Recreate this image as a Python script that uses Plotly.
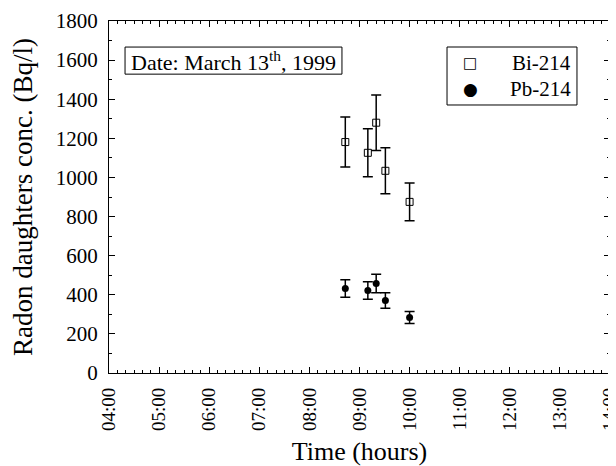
import plotly.graph_objects as go

times = ["1999-03-13 08:43", "1999-03-13 09:10", "1999-03-13 09:20", "1999-03-13 09:31", "1999-03-13 10:00"]
bi214 = [1181, 1126, 1280, 1034, 875]
bi214_err = [128, 123, 142, 118, 97]
pb214 = [432, 422, 458, 371, 284]
pb214_err = [45, 45, 47, 40, 31]
series_names = ["Bi-214", "Pb-214"]

font = "Liberation Serif, Times New Roman, serif"

fig = go.Figure()
fig.add_trace(go.Scatter(
    x=times, y=bi214, mode="markers", name=series_names[0],
    marker=dict(symbol="square-open", size=7, color="black", line=dict(width=1)),
    error_y=dict(type="data", array=bi214_err, color="black", thickness=1.5, width=5),
))
fig.add_trace(go.Scatter(
    x=times, y=pb214, mode="markers", name=series_names[1],
    marker=dict(symbol="circle", size=7, color="black"),
    error_y=dict(type="data", array=pb214_err, color="black", thickness=1.5, width=5),
))

fig.update_layout(
    width=608, height=458,
    margin=dict(l=101, r=6, t=13, b=93, autoexpand=False),
    paper_bgcolor="white", plot_bgcolor="white",
    font=dict(family=font, size=20, color="black"),
    showlegend=False,
    xaxis=dict(
        type="date", range=["1999-03-13 04:00", "1999-03-13 14:00:01"],
        dtick=3600000, tick0="1999-03-13 04:00", tickformat="%H:%M", tickangle=-90,
        showline=True, linecolor="black", linewidth=1.2, mirror="allticks",
        ticks="inside", ticklen=6, tickcolor="black", showgrid=False, zeroline=False,
        minor=dict(ticks="inside", ticklen=3, dtick=600000, tickcolor="black", showgrid=False),
        title=dict(text="Time (hours)", font=dict(size=26), standoff=13),
        tickfont=dict(size=19), automargin=False, ticklabeloverflow="allow",
        ticklabelstandoff=6,
    ),
    yaxis=dict(
        range=[0, 1800], dtick=200,
        showline=True, linecolor="black", linewidth=1.2, mirror="allticks",
        ticks="inside", ticklen=6, tickcolor="black", showgrid=False, zeroline=False,
        minor=dict(ticks="inside", ticklen=3, dtick=100, tickcolor="black", showgrid=False),
        title=dict(text="Radon daughters conc. (Bq/l)", font=dict(size=27), standoff=15),
        tickfont=dict(size=21), automargin=False, ticklabelstandoff=6,
    ),
)

# Date box
fig.add_shape(type="rect", xref="paper", yref="paper", x0=0.032, x1=0.465, y0=0.849, y1=0.926,
              line=dict(color="black", width=1), fillcolor="white", layer="above")
fig.add_annotation(
    xref="paper", yref="paper", x=0.2485, y=0.8855, xanchor="center", yanchor="middle",
    text="Date: March 13<sup>th</sup>, 1999", showarrow=False, font=dict(size=22),
)

# Legend box
fig.add_shape(type="rect", xref="paper", yref="paper", x0=0.6747, x1=0.9341, y0=0.7614, y1=0.9261,
              line=dict(color="black", width=1), fillcolor="white", layer="above")
legend_symbols = ["\u25a1", "\u25cf"]
legend_sizes = [15, 17]
legend_y = [0.8807, 0.8068]
for sym, sz, yy, name in zip(legend_symbols, legend_sizes, legend_y, series_names):
    fig.add_annotation(xref="paper", yref="paper", x=0.7206, y=yy, xanchor="center", yanchor="middle",
                       text=sym, showarrow=False, font=dict(size=sz, family="DejaVu Sans"))
    fig.add_annotation(xref="paper", yref="paper", x=0.9262, y=yy, xanchor="right", yanchor="middle",
                       text=name, showarrow=False, font=dict(size=21))

fig.write_html("out.html")
